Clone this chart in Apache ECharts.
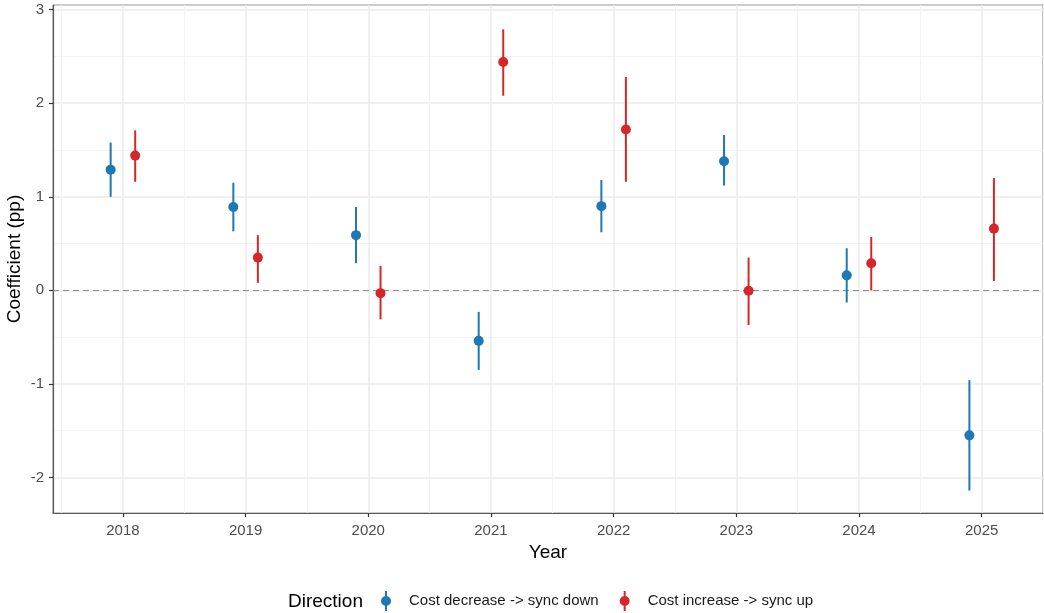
<!DOCTYPE html>
<html>
<head>
<meta charset="utf-8">
<script src="https://cdn.jsdelivr.net/npm/echarts@6/dist/echarts.min.js"></script>
<style>
  html, body { margin: 0; padding: 0; background: #ffffff; }
  #chart { width: 1044px; height: 613px; }
</style>
</head>
<body>
<div id="chart"></div>
<script>
// Yearly coefficients (percentage points) with confidence intervals
const years = [2018, 2019, 2020, 2021, 2022, 2023, 2024, 2025];

const downEst = [1.29, 0.89, 0.59, -0.54, 0.90, 1.38, 0.16, -1.55];
const downLow = [1.00, 0.63, 0.29, -0.85, 0.62, 1.12, -0.13, -2.14];
const downHigh = [1.58, 1.15, 0.89, -0.23, 1.18, 1.66, 0.45, -0.96];

const upEst = [1.44, 0.35, -0.03, 2.44, 1.72, -0.005, 0.29, 0.66];
const upLow = [1.16, 0.08, -0.31, 2.08, 1.16, -0.37, 0.00, 0.10];
const upHigh = [1.71, 0.59, 0.26, 2.79, 2.28, 0.35, 0.57, 1.20];

const yTicks = [-2, -1, 0, 1, 2, 3];
const yMinorTicks = [-2.5, -1.5, -0.5, 0.5, 1.5, 2.5];
const xMinorTicks = [2017.5, 2018.5, 2019.5, 2020.5, 2021.5, 2022.5, 2023.5, 2024.5, 2025.5];

const seriesNames = ['Cost decrease -> sync down', 'Cost increase -> sync up'];
const colors = ['#1f77b4', '#d62728'];
const dodge = 0.1;

const X_MIN = 2017.43, X_MAX = 2025.5;
const Y_MIN = -2.38, Y_MAX = 3.05;

function buildData(est, low, high, offset) {
  return years.map((yr, i) => [yr + offset, est[i], low[i], high[i]]);
}

// Point with a vertical interval line, positioned through the axis scales
function errorPoint(color) {
  return function (params, api) {
    const x = api.value(0);
    const c = api.coord([x, api.value(1)]);
    const lo = api.coord([x, api.value(2)]);
    const hi = api.coord([x, api.value(3)]);
    return {
      type: 'group',
      children: [
        { type: 'line', shape: { x1: lo[0], y1: lo[1], x2: hi[0], y2: hi[1] },
          style: { stroke: color, lineWidth: 2 } },
        { type: 'circle', shape: { cx: c[0], cy: c[1], r: 5 },
          style: { fill: color } }
      ]
    };
  };
}

// Legend key: vertical interval line through a dot
const legendIcon = 'path://M4,0H6V20H4Z M5,5A5,5 0 1,1 5,15A5,5 0 1,1 5,5Z';

const chart = echarts.init(document.getElementById('chart'), null, { renderer: 'canvas' });

const font = 'Liberation Sans, Arial, Helvetica, sans-serif';

chart.setOption({
  animation: false,
  backgroundColor: '#ffffff',
  textStyle: { fontFamily: font },
  grid: {
    left: 53, right: 1, top: 5, bottom: 100,
    containLabel: false, outerBoundsMode: 'none',
    show: true, borderColor: '#9a9a9a', borderWidth: 1.2, backgroundColor: '#ffffff'
  },
  title: {
    text: 'Direction',
    left: 288, top: 592, padding: 0,
    textStyle: { fontFamily: font, fontSize: 19, fontWeight: 'normal', color: '#000000' }
  },
  legend: {
    left: 381, top: 591, padding: 0,
    itemWidth: 10, itemHeight: 20, itemGap: 21,
    textStyle: { fontFamily: font, fontSize: 15, color: '#1a1a1a', padding: [0, 0, 0, 13] },
    data: seriesNames.map((n, i) => ({ name: n, icon: legendIcon, itemStyle: { color: colors[i] } }))
  },
  xAxis: [{
    type: 'value', min: X_MIN, max: X_MAX,
    name: 'Year', nameLocation: 'middle', nameGap: 28,
    nameTextStyle: { fontFamily: font, fontSize: 19, color: '#000000' },
    axisLine: { show: true, onZero: false, lineStyle: { color: '#5a5a5a', width: 1.2 } },
    axisTick: { show: true, length: 4, customValues: years, lineStyle: { color: '#333333', width: 1.2 } },
    axisLabel: { customValues: years, margin: 10, fontSize: 15, color: '#4d4d4d', fontFamily: font,
      formatter: v => String(v) },
    splitLine: { show: true, lineStyle: { color: '#ebebeb', width: 1.5 } }
  }, {
    type: 'value', min: X_MIN, max: X_MAX, position: 'bottom',
    axisLine: { show: false },
    axisTick: { show: false, customValues: xMinorTicks },
    axisLabel: { show: false, customValues: xMinorTicks },
    splitLine: { show: true, lineStyle: { color: '#f3f3f3', width: 1 } }
  }],
  yAxis: [{
    type: 'value', min: Y_MIN, max: Y_MAX,
    name: 'Coefficient (pp)', nameLocation: 'middle', nameGap: 29, nameRotate: 90,
    nameMoveOverlap: false,
    nameTextStyle: { fontFamily: font, fontSize: 19, color: '#000000' },
    axisLine: { show: true, onZero: false, lineStyle: { color: '#5a5a5a', width: 1.2 } },
    axisTick: { show: true, length: 4, customValues: yTicks, lineStyle: { color: '#333333', width: 1.2 } },
    axisLabel: { customValues: yTicks, margin: 9, fontSize: 15, color: '#4d4d4d', fontFamily: font,
      formatter: v => String(v) },
    splitLine: { show: true, lineStyle: { color: '#ebebeb', width: 1.5 } }
  }, {
    type: 'value', min: Y_MIN, max: Y_MAX, position: 'left',
    axisLine: { show: false },
    axisTick: { show: false, customValues: yMinorTicks },
    axisLabel: { show: false, customValues: yMinorTicks },
    splitLine: { show: true, lineStyle: { color: '#f3f3f3', width: 1 } }
  }],
  series: [
    {
      name: seriesNames[0], type: 'custom', xAxisIndex: 0, yAxisIndex: 0,
      renderItem: errorPoint(colors[0]),
      itemStyle: { color: colors[0] },
      encode: { x: 0, y: [1, 2, 3] },
      data: buildData(downEst, downLow, downHigh, -dodge),
      z: 5,
      markLine: {
        silent: true, symbol: 'none', label: { show: false },
        lineStyle: { color: '#8c8c8c', type: [6, 4], width: 1.1 },
        data: [{ yAxis: 0 }]
      }
    },
    {
      name: seriesNames[1], type: 'custom', xAxisIndex: 0, yAxisIndex: 0,
      renderItem: errorPoint(colors[1]),
      itemStyle: { color: colors[1] },
      encode: { x: 0, y: [1, 2, 3] },
      data: buildData(upEst, upLow, upHigh, dodge),
      z: 5
    }
  ]
});
</script>
</body>
</html>
